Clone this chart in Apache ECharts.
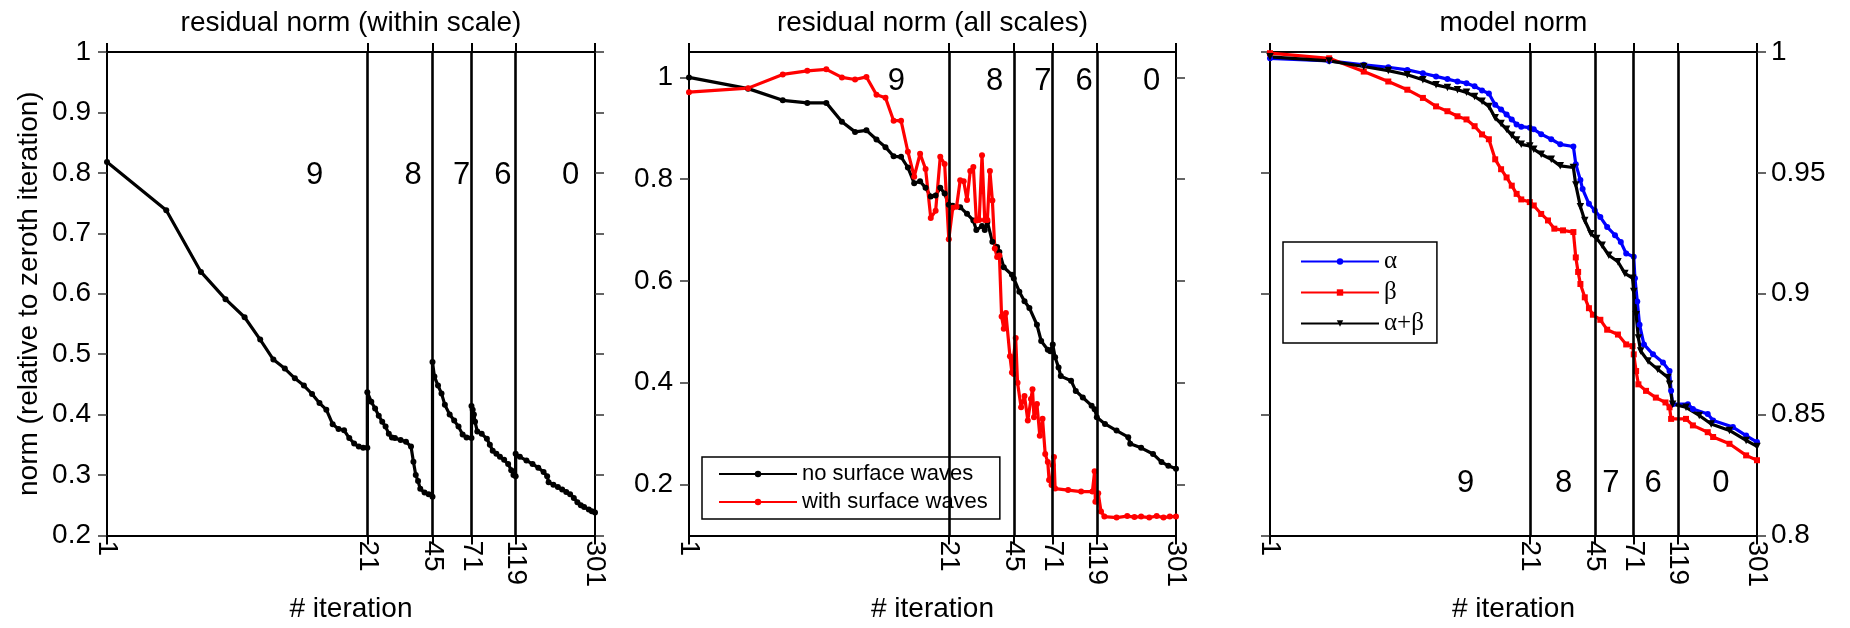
<!DOCTYPE html>
<html>
<head>
<meta charset="utf-8">
<script src="https://cdn.jsdelivr.net/npm/echarts@6/dist/echarts.min.js"></script>
<style>
html,body{margin:0;padding:0;background:#fff;}
#chart{width:1850px;height:628px;}
</style>
</head>
<body>
<div id="chart"></div>
<script>
// ---------- data ----------
const xTicks = [1, 21, 45, 71, 119, 301];
const scaleBounds = [21, 45, 71, 119];
const scaleNames = ['9', '8', '7', '6', '0'];
const scaleLabelIterResid = [11.35, 35.9, 63.2, 102.5, 226.5];
const scaleLabelIterModel = [9.9, 31.2, 54.3, 89.2, 197];
const scaleLabelLevel = [0.795, 0.992, 0.8215];
const panelTitles = ['residual norm (within scale)', 'residual norm (all scales)', 'model norm'];
const yTicksAll = [0.2, 0.4, 0.6, 0.8, 1];

// panel 1: residual norm within scale
const iterWithin = [1,2,3,4,5,6,7,8,9,10,11,12,13,14,15,16,17,18,19,20,21,
  21,22,23,24,25,26,27,28,29,31,33,35,36,37,38,39,41,43,45,
  45,46,48,50,52,55,58,61,64,67,71,
  71,72,73,74,76,80,85,88,91,95,99,104,109,113,116,119,
  119,125,135,145,155,165,172,175,185,195,205,215,225,235,245,255,265,280,290,301];
const normWithin = [0.818,0.738,0.636,0.591,0.561,0.524,0.491,0.476,0.460,0.448,0.434,0.419,0.408,0.384,0.376,0.374,0.361,0.352,0.347,0.345,0.345,
  0.437,0.421,0.410,0.398,0.388,0.380,0.368,0.362,0.361,0.358,0.355,0.347,0.322,0.300,0.290,0.277,0.271,0.268,0.264,
  0.487,0.463,0.448,0.435,0.416,0.400,0.390,0.380,0.367,0.362,0.361,
  0.414,0.408,0.400,0.388,0.372,0.368,0.360,0.350,0.340,0.335,0.330,0.325,0.318,0.308,0.300,0.298,
  0.335,0.330,0.324,0.318,0.312,0.305,0.298,0.288,0.284,0.280,0.276,0.272,0.268,0.262,0.255,0.250,0.247,0.243,0.240,0.238];

// panel 2: residual norm all scales
const iterNoSW = [1,2,3,4,5,6,7,8,9,10,11,12,13,14,15,16,17,18,19,20,21,22,24,26,28,29,31,32,33,35,37,38,40,44,45,48,51,54,59,62,67,69,71,73,76,78,88,93,101,112,116,119,131,150,172,176,200,230,254,275,301];
const normNoSW = [1.0,0.978,0.955,0.95,0.95,0.913,0.893,0.896,0.878,0.863,0.845,0.844,0.823,0.792,0.796,0.783,0.766,0.768,0.783,0.772,0.75,0.748,0.745,0.732,0.719,0.70,0.708,0.70,0.716,0.677,0.667,0.657,0.627,0.612,0.605,0.579,0.56,0.547,0.514,0.482,0.465,0.462,0.475,0.45,0.43,0.413,0.404,0.384,0.371,0.355,0.348,0.332,0.319,0.306,0.293,0.28,0.272,0.26,0.244,0.237,0.231];
const iterWithSW = [1,2,3,4,5,6,7,8,9,10,11,12,13,14,15,16,17,18,19,20,21,22,23,24,25,26,27,28,29,30,31,32,33,34,35,36,37,38,39,40,41,43,44,45,46,47,49,51,53,55,56,57,59,61,63,65,67,68,70,71,72,73,85,99,113,116,117,121,125,130,150,170,185,200,220,240,260,280,301];
const normWithSW = [0.971,0.979,1.006,1.013,1.016,1.0,0.996,1.001,0.966,0.96,0.915,0.915,0.854,0.805,0.85,0.82,0.724,0.738,0.844,0.83,0.682,0.744,0.746,0.798,0.796,0.759,0.816,0.824,0.719,0.72,0.847,0.72,0.72,0.816,0.758,0.664,0.647,0.65,0.53,0.506,0.537,0.452,0.42,0.417,0.488,0.40,0.352,0.374,0.326,0.368,0.387,0.332,0.358,0.296,0.329,0.26,0.244,0.209,0.199,0.238,0.254,0.192,0.189,0.186,0.186,0.226,0.166,0.183,0.147,0.137,0.135,0.138,0.136,0.137,0.135,0.138,0.135,0.137,0.137];

// panel 3: model norm
const iterAlpha = [1,2,3,4,5,6,7,8,9,10,11,12,13,14,15,16,17,18,19,21,22,24,27,30,35,36,38,39,42,45,48,52,57,61,65,71,72,74,76,80,89,100,108,110,112,134,142,169,180,227,265,301];
const normAlpha = [0.9974,0.9963,0.9947,0.9937,0.9926,0.9912,0.9899,0.9888,0.9878,0.9871,0.9858,0.9841,0.9828,0.9782,0.9762,0.9741,0.9721,0.970,0.9691,0.9687,0.968,0.966,0.9639,0.9618,0.9609,0.9536,0.9470,0.9433,0.9372,0.9344,0.9317,0.9276,0.9242,0.9214,0.9166,0.9153,0.9064,0.8968,0.8872,0.879,0.8749,0.8715,0.868,0.8598,0.8543,0.8543,0.8523,0.8502,0.8475,0.8448,0.8413,0.8386];
const iterBeta = [1,2,3,4,5,6,7,8,9,10,11,12,13,14,15,16,17,18,19,21,22,24,26,28,31,35,36,37,38,40,42,44,48,52,59,65,70,71,73,75,82,92,103,108,110,131,142,169,180,218,265,301];
const normBeta = [0.9995,0.9974,0.9919,0.9878,0.9844,0.981,0.9775,0.9755,0.9734,0.9721,0.9693,0.9659,0.9639,0.9556,0.9515,0.9481,0.9447,0.9413,0.939,0.9379,0.9365,0.933,0.9303,0.9269,0.9262,0.9255,0.915,0.909,0.904,0.8985,0.894,0.8913,0.8892,0.8851,0.8831,0.879,0.8783,0.8749,0.868,0.8625,0.8598,0.857,0.855,0.853,0.8482,0.8482,0.8455,0.8427,0.8407,0.8379,0.8331,0.8311];
const iterAlphaBeta = [1,2,3,4,5,6,7,8,9,10,11,12,13,14,15,16,17,18,19,21,22,24,27,30,35,36,38,40,43,46,49,53,59,64,70,71,73,75,77,84,94,106,108,112,131,153,176,218,265,301];
const normAlphaBeta = [0.998,0.9963,0.994,0.9923,0.9906,0.9885,0.9864,0.9853,0.9844,0.9833,0.9816,0.9796,0.9775,0.9728,0.9704,0.968,0.9656,0.9636,0.9618,0.9611,0.9598,0.9577,0.9556,0.9529,0.9522,0.945,0.936,0.9303,0.9248,0.9228,0.92,0.9159,0.9132,0.9084,0.9064,0.9009,0.8913,0.8817,0.8763,0.8721,0.8687,0.8653,0.8625,0.8543,0.853,0.8496,0.8461,0.8434,0.8393,0.8368];

// ---------- build ----------
const FONT = '"Liberation Sans", Arial, sans-serif';
const SERIF = '"Liberation Serif", "Times New Roman", serif';
const FS = 28;
const pairs = (xs, ys) => xs.map((x, i) => [x, ys[i]]);
const grids = [
  {left: 107, top: 52, width: 488, height: 487},
  {left: 689, top: 52, width: 487, height: 487},
  {left: 1270, top: 52, width: 487, height: 487}
];
const axisLine = {show: true, lineStyle: {color: '#000', width: 2}};
const xAxes = [], yAxes = [];
grids.forEach((g, i) => {
  xAxes.push({
    type: 'log', gridIndex: i, position: 'bottom', min: 1, max: 301,
    axisLine, splitLine: {show: false},
    axisTick: {show: true, inside: false, length: 9, customValues: xTicks, lineStyle: {color: '#000', width: 2}},
    axisLabel: {show: true, customValues: xTicks, rotate: -90, margin: 5, fontSize: FS, color: '#000', fontFamily: FONT,
      formatter: v => String(Math.round(v))},
    name: '# iteration', nameLocation: 'middle', nameGap: 58,
    nameTextStyle: {fontSize: FS, color: '#000', fontFamily: FONT}
  });
  xAxes.push({
    type: 'log', gridIndex: i, position: 'top', min: 1, max: 301,
    axisLine, splitLine: {show: false},
    axisTick: {show: true, inside: false, length: 9, customValues: xTicks, lineStyle: {color: '#000', width: 2}},
    axisLabel: {show: false}
  });
});
const yLabel = {fontSize: FS, color: '#000', fontFamily: FONT};
const yTick = {show: true, inside: false, length: 9, lineStyle: {color: '#333', width: 1.5}};
// panel 1
yAxes.push({type: 'value', gridIndex: 0, position: 'left', min: 0.2, max: 1, interval: 0.1,
  axisLine, splitLine: {show: false}, axisTick: yTick,
  axisLabel: Object.assign({margin: 16}, yLabel),
  name: 'norm (relative to zeroth iteration)', nameLocation: 'middle', nameGap: 64, nameRotate: 90,
  nameTextStyle: {fontSize: FS, color: '#000', fontFamily: FONT}});
yAxes.push({type: 'value', gridIndex: 0, position: 'right', min: 0.2, max: 1, interval: 0.1,
  axisLine, splitLine: {show: false}, axisTick: yTick, axisLabel: {show: false}});
// panel 2
yAxes.push({type: 'value', gridIndex: 1, position: 'left', min: 0.1, max: 1.05,
  axisLine, splitLine: {show: false}, axisTick: Object.assign({customValues: yTicksAll}, yTick),
  axisLabel: Object.assign({margin: 16, customValues: yTicksAll}, yLabel)});
yAxes.push({type: 'value', gridIndex: 1, position: 'right', min: 0.1, max: 1.05,
  axisLine, splitLine: {show: false}, axisTick: Object.assign({customValues: yTicksAll}, yTick), axisLabel: {show: false}});
// panel 3
yAxes.push({type: 'value', gridIndex: 2, position: 'left', min: 0.8, max: 1, interval: 0.05,
  axisLine, splitLine: {show: false}, axisTick: yTick, axisLabel: {show: false}});
yAxes.push({type: 'value', gridIndex: 2, position: 'right', min: 0.8, max: 1, interval: 0.05,
  axisLine, splitLine: {show: false}, axisTick: yTick,
  axisLabel: Object.assign({margin: 14}, yLabel)});

const vLines = {
  silent: true, symbol: ['none', 'none'], label: {show: false},
  lineStyle: {color: '#000', width: 2.6, type: 'solid', opacity: 1},
  data: scaleBounds.map(b => ({xAxis: b}))
};
function lineSeries(name, pi, data, color, symbol, size, extra) {
  return Object.assign({
    type: 'line', name, xAxisIndex: pi * 2, yAxisIndex: pi * 2, data,
    symbol, symbolSize: size, showSymbol: true,
    lineStyle: {color, width: 3.2}, itemStyle: {color}, animation: false
  }, extra || {});
}
function scaleText(pi, xs, level) {
  return {
    type: 'scatter', xAxisIndex: pi * 2, yAxisIndex: pi * 2, symbolSize: 0, silent: true,
    itemStyle: {opacity: 1},
    data: xs.map((x, i) => [x, level, scaleNames[i]]),
    label: {show: true, position: 'inside', formatter: p => p.value[2], fontSize: 31, color: '#000', opacity: 1, fontFamily: FONT},
    animation: false
  };
}

const series = [
  lineSeries('within', 0, pairs(iterWithin, normWithin), '#000', 'circle', 6, {markLine: vLines}),
  scaleText(0, scaleLabelIterResid, scaleLabelLevel[0]),
  lineSeries('no surface waves', 1, pairs(iterNoSW, normNoSW), '#000', 'circle', 6, {markLine: vLines}),
  lineSeries('with surface waves', 1, pairs(iterWithSW, normWithSW), '#ff0000', 'circle', 6),
  scaleText(1, scaleLabelIterResid, scaleLabelLevel[1]),
  lineSeries('α', 2, pairs(iterAlpha, normAlpha), '#0000ff', 'circle', 6, {markLine: vLines}),
  lineSeries('β', 2, pairs(iterBeta, normBeta), '#ff0000', 'rect', 6),
  lineSeries('α+β', 2, pairs(iterAlphaBeta, normAlphaBeta), '#000', 'triangle', 7.5, {symbolRotate: 180}),
  scaleText(2, scaleLabelIterModel, scaleLabelLevel[2])
];

const legendBase = {
  orient: 'vertical', itemWidth: 78, itemHeight: 8, borderColor: '#000', borderWidth: 1.5,
  backgroundColor: '#fff', selectedMode: false
};
const option = {
  backgroundColor: '#fff',
  animation: false,
  title: panelTitles.map((t, i) => ({
    text: t, left: grids[i].left + grids[i].width / 2, top: 9, textAlign: 'center', padding: 0,
    textStyle: {fontSize: FS, fontWeight: 'normal', color: '#000', fontFamily: FONT}
  })),
  grid: grids,
  xAxis: xAxes,
  yAxis: yAxes,
  legend: [
    Object.assign({}, legendBase, {
      data: ['no surface waves', 'with surface waves'], left: 702, top: 457,
      padding: [6, 12, 6, 16], itemGap: 6,
      textStyle: {fontSize: 22, lineHeight: 22, color: '#000', fontFamily: FONT}
    }),
    Object.assign({}, legendBase, {
      data: ['α', 'β', 'α+β'], left: 1283, top: 242,
      padding: [7, 13, 7, 17], itemGap: 6,
      textStyle: {fontSize: 25, lineHeight: 24, color: '#000', fontFamily: SERIF}
    })
  ],
  series
};
const chart = echarts.init(document.getElementById('chart'), null, {renderer: 'canvas'});
chart.setOption(option);
</script>
</body>
</html>
